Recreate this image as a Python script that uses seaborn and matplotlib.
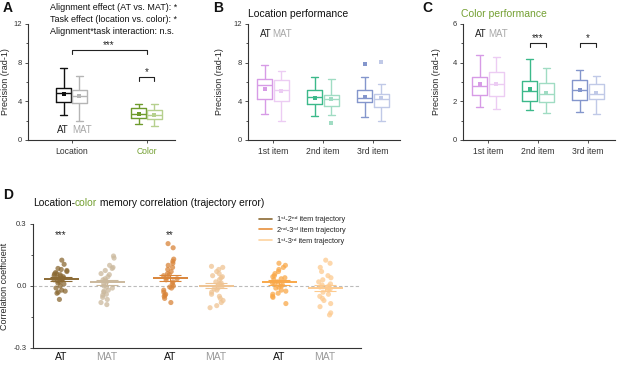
import numpy as np
import pandas as pd
import matplotlib
matplotlib.use('Agg')
import matplotlib.pyplot as plt
import seaborn as sns
from matplotlib.lines import Line2D
from matplotlib.transforms import IdentityTransform

sns.set_theme(style='ticks')
plt.rcParams['font.family'] = ['Liberation Sans', 'DejaVu Sans']
plt.rcParams['axes.linewidth'] = 0.8
plt.rcParams['axes.edgecolor'] = '#333333'
plt.rcParams['xtick.color'] = '#333333'
plt.rcParams['ytick.color'] = '#333333'
plt.rcParams['xtick.major.size'] = 2
plt.rcParams['ytick.major.size'] = 2.5
plt.rcParams['ytick.minor.size'] = 1.5
plt.rcParams['xtick.major.width'] = 0.6
plt.rcParams['ytick.major.width'] = 0.6
plt.rcParams['ytick.minor.width'] = 0.6
plt.rcParams['ytick.major.pad'] = 2

# ---------------- data ----------------
# boxes are given as (min, q1, median, q3, max)
tasks = ['Location', 'Color']
a_at = [[2.6, 3.89, 4.85, 5.38, 7.47], [1.67, 2.26, 2.71, 3.3, 3.72]]
a_mat = [[1.98, 3.82, 4.58, 5.2, 6.6], [1.49, 2.19, 2.6, 3.09, 3.72]]
a_at_mean = [4.76, 2.7]
a_mat_mean = [4.52, 2.6]

items = ['1st item', '2nd item', '3rd item']
b_at = [[2.65, 4.2, 5.69, 6.27, 7.76], [2.48, 3.69, 4.41, 5.17, 6.55],
        [2.38, 3.9, 4.31, 5.17, 6.48]]
b_mat = [[2.0, 4.07, 5.17, 6.2, 7.17], [2.55, 3.52, 4.2, 4.65, 6.31],
         [1.96, 3.45, 4.24, 4.79, 5.76]]
b_at_mean = [5.24, 4.37, 4.48]
b_mat_mean = [5.07, 4.2, 4.31]
b_at_out = [[], [], [7.82]]
b_mat_out = [[], [1.79], [8.1]]

c_at = [[1.69, 2.33, 2.81, 3.28, 4.4], [1.55, 2.02, 2.55, 3.07, 4.19],
        [1.43, 2.07, 2.59, 3.1, 3.62]]
c_mat = [[1.59, 2.29, 2.88, 3.5, 4.31], [1.38, 1.98, 2.38, 2.93, 3.74],
         [1.35, 2.1, 2.38, 2.9, 3.33]]
c_at_mean = [2.88, 2.64, 2.59]
c_mat_mean = [2.88, 2.45, 2.45]

# panel D: per-subject correlation coefficients
r_at_12 = [0.125, 0.105, 0.085, 0.08, 0.075, 0.07, 0.065, 0.06, 0.058, 0.055,
           0.05, 0.048, 0.045, 0.04, 0.038, 0.035, 0.03, 0.03, 0.025, 0.02,
           0.015, 0.01, 0.0, -0.01, -0.02, -0.025, -0.03, -0.035, -0.065]
r_mat_12 = [0.145, 0.135, 0.1, 0.09, 0.085, 0.075, 0.06, 0.055, 0.045, 0.035,
            0.03, 0.025, 0.02, 0.01, 0.0, -0.005, -0.01, -0.02, -0.025, -0.03,
            -0.04, -0.045, -0.055, -0.065, -0.08, -0.09]
r_at_23 = [0.205, 0.185, 0.13, 0.12, 0.11, 0.1, 0.09, 0.08, 0.07, 0.06, 0.055,
           0.05, 0.04, 0.035, 0.03, 0.02, 0.01, 0.0, -0.005, -0.01, -0.02,
           -0.03, -0.04, -0.045, -0.05, -0.06, -0.08]
r_mat_23 = [0.095, 0.09, 0.08, 0.07, 0.06, 0.05, 0.045, 0.04, 0.03, 0.02,
            0.015, 0.01, 0.005, 0.0, -0.01, -0.015, -0.02, -0.03, -0.04,
            -0.05, -0.06, -0.07, -0.08, -0.095, -0.105]
r_at_13 = [0.11, 0.1, 0.09, 0.08, 0.07, 0.06, 0.05, 0.045, 0.04, 0.035, 0.03,
           0.02, 0.015, 0.01, 0.005, 0.0, -0.005, -0.01, -0.02, -0.025,
           -0.035, -0.04, -0.05, -0.055, -0.085]
r_mat_13 = [0.125, 0.11, 0.09, 0.07, 0.05, 0.04, 0.03, 0.02, 0.01, 0.005, 0.0,
            -0.005, -0.01, -0.015, -0.02, -0.03, -0.04, -0.05, -0.06, -0.07,
            -0.085, -0.1, -0.13, -0.14]
traj_labels = ['1ˢᵗ-2ⁿᵈ item trajectory', '2ⁿᵈ-3ʳᵈ item trajectory',
               '1ˢᵗ-3ʳᵈ item trajectory']

# ---------------- styles ----------------
green = '#74a032'
a_colors = [('#111111', '#b5b5b5'), ('#6e9b2c', '#b6d08e')]
item_colors = [('#d79be6', '#ecccf3'), ('#3cb98a', '#a0dcc3'),
               ('#8496cc', '#c0c9e7')]
d_colors = ['#8b6a34', '#cbb99d', '#d9853a', '#efc493', '#f9a849', '#fdca8f']
leg_colors = ['#8b6a34', '#e8903c', '#fdd3a0']


def long_frame(cats, at, mat):
    rows = []
    for cat, v_at, v_mat in zip(cats, at, mat):
        rows += [(cat, 'AT', v) for v in np.atleast_1d(v_at)]
        rows += [(cat, 'MAT', v) for v in np.atleast_1d(v_mat)]
    return pd.DataFrame(rows, columns=['cat', 'align', 'val'])


def draw_boxes(ax, cats, at, mat, at_mean, mat_mean, colors, width, gap,
               at_out=None, mat_out=None):
    boxes = long_frame(cats, at, mat)
    means = long_frame(cats, at_mean, mat_mean)
    if at_out is None:
        at_out = [[] for _ in cats]
        mat_out = [[] for _ in cats]
    outs = long_frame(cats, at_out, mat_out)
    for cat, (c1, c2) in zip(cats, colors):
        kw = dict(x='cat', y='val', hue='align', order=cats,
                  hue_order=['AT', 'MAT'], palette={'AT': c1, 'MAT': c2},
                  legend=False, ax=ax)
        sns.boxplot(data=boxes[boxes.cat == cat], fill=False, whis=(0, 100),
                    width=width, gap=gap, linewidth=1.0, **kw)
        for df in (means, outs):
            sub = df[df.cat == cat]
            if len(sub):
                sns.pointplot(data=sub, dodge=width / 2, linestyle='none',
                              marker='s', markersize=2.2, markeredgewidth=0,
                              errorbar=None, **kw)
    ax.set_xlabel('')
    ax.set_ylabel('Precision (rad-1)', fontsize=6.5)
    ax.tick_params(axis='x', labelsize=6.2, pad=3)
    ax.tick_params(axis='y', labelsize=5.5)
    sns.despine(ax=ax)


def bracket(ax, x0, x1, y, h, label):
    ax.plot([x0, x0, x1, x1], [y - h, y, y, y - h], color='#222222', lw=0.8)
    ax.text((x0 + x1) / 2, y, label, ha='center', va='bottom', fontsize=7)


def at_mat(ax, x, y, dx):
    ax.text(x, y, 'AT', transform=ax.transAxes, fontsize=7, color='#222222',
            va='center')
    ax.text(x + dx, y, 'MAT', transform=ax.transAxes, fontsize=7,
            color='#a8a8a8', va='center')


fig = plt.figure(figsize=(6.4, 3.7), dpi=100)
W, H = 640, 370


def px_axes(x0, x1, ytop, ybot):
    return fig.add_axes([x0 / W, 1 - ybot / H, (x1 - x0) / W, (ybot - ytop) / H])


# ---------------- panel A ----------------
ax_a = px_axes(28, 175, 24, 140)
draw_boxes(ax_a, tasks, a_at, a_mat, a_at_mean, a_mat_mean, a_colors,
           width=0.426, gap=0.11)
ax_a.set_ylim(0, 12)
ax_a.set_yticks([0, 4, 8, 12])
ax_a.set_yticks([2, 6, 10], minor=True)
ax_a.set_xlim(-0.58, 1.38)
ax_a.get_xticklabels()[1].set_color(green)
ax_a.yaxis.set_label_coords(-0.125, 0.5)
bracket(ax_a, 0, 1, 9.3, 0.4, '***')
bracket(ax_a, 1 - 0.1065, 1 + 0.1065, 6.55, 0.45, '*')
at_mat(ax_a, 0.2, 0.09, 0.098)
for i, line in enumerate(['Alignment effect (AT vs. MAT): *',
                          'Task effect (location vs. color): *',
                          'Alignment*task interaction: n.s.']):
    fig.text(50 / W, 1 - (7 + 12.3 * i) / H, line, fontsize=6.5,
             va='center', color='#111111')

# ---------------- panel B ----------------
ax_b = px_axes(248, 400, 24, 140)
draw_boxes(ax_b, items, b_at, b_mat, b_at_mean, b_mat_mean, item_colors,
           width=0.66, gap=0.12, at_out=b_at_out, mat_out=b_mat_out)
ax_b.set_ylim(0, 12)
ax_b.set_yticks([0, 4, 8, 12])
ax_b.set_yticks([2, 6, 10], minor=True)
ax_b.set_xlim(-0.5, 2.54)
ax_b.yaxis.set_label_coords(-0.155, 0.5)
at_mat(ax_b, 0.08, 0.915, 0.082)

# ---------------- panel C ----------------
ax_c = px_axes(463, 615, 24, 140)
draw_boxes(ax_c, items, c_at, c_mat, c_at_mean, c_mat_mean, item_colors,
           width=0.66, gap=0.12)
ax_c.set_ylim(0, 6)
ax_c.set_yticks([0, 2, 4, 6])
ax_c.set_yticks([1, 3, 5], minor=True)
ax_c.set_xlim(-0.5, 2.54)
ax_c.yaxis.set_label_coords(-0.142, 0.5)
bracket(ax_c, 1 - 0.165, 1 + 0.165, 5.0, 0.17, '***')
bracket(ax_c, 2 - 0.165, 2 + 0.165, 5.0, 0.17, '*')
at_mat(ax_c, 0.079, 0.915, 0.086)

fig.text(248 / W, 1 - 14 / H, 'Location performance', fontsize=7.5,
         va='center', color='#111111')
fig.text(461 / W, 1 - 14 / H, 'Color performance', fontsize=7.5,
         va='center', color=green)

# ---------------- panel D ----------------
ax_d = px_axes(33, 361, 224, 348)
groups = ['AT1', 'MAT1', 'AT2', 'MAT2', 'AT3', 'MAT3']
values = [r_at_12, r_mat_12, r_at_23, r_mat_23, r_at_13, r_mat_13]
pos = [0, 1, 2.37, 3.37, 4.74, 5.74]
corr = pd.DataFrame([(g, v) for g, vals in zip(groups, values) for v in vals],
                    columns=['grp', 'r'])
corr['pos'] = corr['grp'].map(dict(zip(groups, pos)))

np.random.seed(3)
sns.stripplot(data=corr, x='pos', y='r', hue='grp', native_scale=True,
              palette=dict(zip(groups, d_colors)), jitter=0.16, size=3.7,
              alpha=0.75, linewidth=0, legend=False, ax=ax_d)
ax_d.axhline(0, ls=(0, (3, 2)), color='#bbbbbb', lw=0.8, zorder=0)

stats = corr.groupby('grp', sort=False)['r'].agg(['mean', 'sem'])
for g, p, c in zip(groups, pos, d_colors):
    m, s = stats.loc[g, 'mean'], stats.loc[g, 'sem']
    ax_d.hlines(m, p - 0.38, p + 0.38, color=c, lw=1.4, zorder=5)
    ax_d.errorbar(p, m, yerr=s, fmt='none', ecolor=c, elinewidth=0.8,
                  capsize=8, capthick=0.8, zorder=5)

ax_d.text(pos[0], 0.245, '***', ha='center', va='center', fontsize=7)
ax_d.text(pos[2], 0.245, '**', ha='center', va='center', fontsize=7)

ax_d.set_xlim(-0.61, 6.52)
ax_d.set_ylim(-0.3, 0.3)
ax_d.set_yticks([-0.3, 0, 0.3])
ax_d.set_yticklabels(['-0.3', '0.0', '0.3'])
ax_d.set_yticks([-0.15, 0.15], minor=True)
ax_d.set_xticks(pos)
ax_d.set_xticklabels(['AT', 'MAT'] * 3)
for lab, col in zip(ax_d.get_xticklabels(), ['#111111', '#9a9a9a'] * 3):
    lab.set_color(col)
ax_d.tick_params(axis='x', length=0, labelsize=7.5, pad=3)
ax_d.tick_params(axis='y', labelsize=5.5)
ax_d.set_xlabel('')
ax_d.set_ylabel('Correlation coefficient', fontsize=6.5)
ax_d.yaxis.set_label_coords(-0.072, 0.5)
sns.despine(ax=ax_d)

handles = [Line2D([0], [0], color=c, lw=1.2) for c in leg_colors]
fig.legend(handles, traj_labels, loc='upper left',
           bbox_to_anchor=(259 / W, 1 - 216 / H), frameon=False,
           fontsize=5.3, borderpad=0, borderaxespad=0, handlelength=1.8,
           handletextpad=0.6, labelspacing=0.5)

# D title, with the word "color" in green
renderer = fig.canvas.get_renderer()
x_px, y_px = 33, H - 206
for txt, col in [('Location-', '#111111'), ('color', green),
                 (' memory correlation (trajectory error)', '#111111')]:
    t = fig.text(x_px, y_px, txt, fontsize=7.4, color=col, va='baseline',
                 transform=IdentityTransform())
    x_px = t.get_window_extent(renderer).x1

# panel letters
for letter, x, y in [('A', 3, 8), ('B', 213, 8), ('C', 422, 8), ('D', 3, 195)]:
    fig.text(x / W, 1 - y / H, letter, fontsize=10, fontweight='bold',
             va='center', color='#111111')

fig.savefig('out.png', dpi=100)
